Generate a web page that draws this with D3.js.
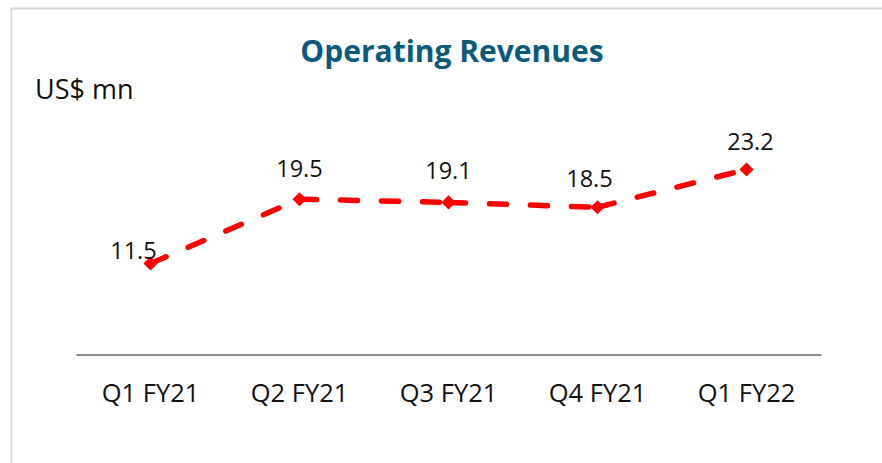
<!DOCTYPE html>
<html>
<head>
<meta charset="utf-8">
<script src="https://cdn.jsdelivr.net/npm/d3@7"></script>
<style>
  body { margin: 0; background: #fff; }
  svg { display: block; font-family: "Open Sans", "Noto Sans", sans-serif; }
</style>
</head>
<body>
<div id="chart"></div>
<script>
// Data
const quarters = ['Q1 FY21', 'Q2 FY21', 'Q3 FY21', 'Q4 FY21', 'Q1 FY22'];
const revenues = [11.5, 19.5, 19.1, 18.5, 23.2];
// label nudges, the way the source chart placed them
const labelDx = [-17, 0, 0, -8, 4];
const labelDy = [-5, -22, -23, -20, -19];

const width = 882, height = 463;
const svg = d3.select('#chart').append('svg')
  .attr('width', width)
  .attr('height', height);

// frame (only the top and left edges show in the crop)
svg.append('path')
  .attr('d', `M11.5,${height} V8.5 H${width}`)
  .attr('fill', 'none')
  .attr('stroke', '#d9d9d9')
  .attr('stroke-width', 2);

const x = d3.scaleBand().domain(quarters).range([76, 821]);
const y = d3.scaleLinear().domain([0, 25]).range([356, 155]);

svg.append('text')
  .attr('x', 452).attr('y', 62)
  .attr('text-anchor', 'middle')
  .attr('font-weight', 'bold')
  .attr('font-size', 30)
  .attr('fill', '#0b5a7a')
  .text('Operating Revenues');

svg.append('text')
  .attr('x', 35).attr('y', 99)
  .attr('font-size', 27)
  .attr('fill', '#111')
  .text('US$ mn');

// x axis
const xAxis = svg.append('g')
  .attr('transform', `translate(0,${y(0) - 1.5})`)
  .call(d3.axisBottom(x).tickSize(0).tickPadding(29));
xAxis.select('.domain').attr('stroke', '#8c8c8c').attr('stroke-width', 2);
xAxis.selectAll('text')
  .attr('font-size', 25.5)
  .attr('fill', '#111')
  .style('font-family', '"Open Sans", "Noto Sans", sans-serif');

const cx = (d, i) => x(quarters[i]) + x.bandwidth() / 2;

// one dashed path per segment, so the dash pattern restarts at each point
const line = d3.line()
  .x(d => d[0])
  .y(d => d[1]);
const pts = revenues.map((d, i) => [cx(d, i), y(d)]);

svg.selectAll('.seg')
  .data(d3.pairs(pts))
  .enter().append('path')
  .attr('class', 'seg')
  .attr('d', line)
  .attr('fill', 'none')
  .attr('stroke', '#ff0000')
  .attr('stroke-width', 5.5)
  .attr('stroke-linecap', 'round')
  .attr('stroke-dasharray', '17,24');

svg.selectAll('.marker')
  .data(revenues)
  .enter().append('path')
  .attr('class', 'marker')
  .attr('d', d3.symbol(d3.symbolSquare, 100))
  .attr('transform', (d, i) => `translate(${cx(d, i)},${y(d)}) rotate(45)`)
  .attr('fill', '#ff0000');

svg.selectAll('.label')
  .data(revenues)
  .enter().append('text')
  .attr('class', 'label')
  .attr('x', (d, i) => cx(d, i) + labelDx[i])
  .attr('y', (d, i) => y(d) + labelDy[i])
  .attr('text-anchor', 'middle')
  .attr('font-size', 23.5)
  .attr('fill', '#111')
  .text(d => d.toFixed(1));
</script>
</body>
</html>
